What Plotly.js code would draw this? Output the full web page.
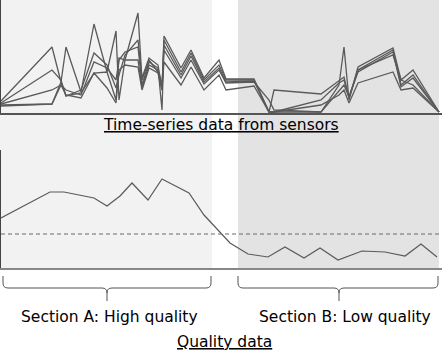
<!DOCTYPE html>
<html>
<head>
<meta charset="utf-8">
<script src="https://cdn.plot.ly/plotly-3.0.1.min.js"></script>
<style>html,body{margin:0;padding:0;background:#fff;}#chart{width:442px;height:353px;}</style>
</head>
<body>
<div id="chart"></div>
<script>
// ---- data ----
const time = [0, 51, 60, 65, 80, 93, 106, 115, 118, 124, 137, 141, 148, 157, 161, 163, 180, 190, 203, 218, 225, 253, 268, 273, 320, 338, 343, 348, 357, 392, 400, 412, 438];
const sensor1 = [12, 66, 31, 66, 21, 89, 41, 82, 13, 53, 100, 33, 53, 41, 23, 77, 45, 63, 35, 53, 34, 34, 1, 1, 1, 28, 66, 13, 46, 65, 33, 43, 1];
const sensor2 = [10, 43, 33, 17, 23, 60, 48, 25, 38, 58, 73, 35, 55, 48, 25, 73, 41, 60, 33, 48, 33, 33, 1, 23, 19, 33, 36, 15, 43, 63, 28, 38, 1];
const sensor3 = [9, 23, 28, 23, 18, 51, 45, 33, 53, 61, 66, 28, 51, 45, 3, 68, 38, 57, 31, 45, 31, 32, 1, 1, 13, 30, 33, 16, 41, 61, 26, 35, 1];
const sensor4 = [8, 9, 31, 17, 20, 40, 41, 13, 55, 53, 53, 25, 48, 43, 28, 63, 35, 53, 29, 43, 30, 31, 13, 3, 1, 23, 28, 16, 43, 58, 33, 28, 1];
const sensor5 = [7, 9, 28, 18, 15, 40, 25, 10, 43, 48, 46, 23, 45, 40, 23, 51, 28, 46, 23, 38, 23, 27, 1, 1, 8, 18, 23, 10, 30, 41, 23, 25, 1];

const qualityTime = [0, 49, 63, 93, 106, 119, 131, 147, 161, 188, 203, 220, 229, 247, 267, 284, 303, 319, 337, 361, 384, 404, 420, 436];
const quality = [50, 76, 76, 70, 62, 72, 85, 68, 89, 75, 53, 35, 25, 14, 11, 21, 10, 20, 8, 17, 16, 12, 24, 11];
const threshold = 34;

const sectionLabels = ["Section A: High quality", "Section B: Low quality"];
const topTitle = "Time-series data from sensors";
const bottomTitle = "Quality data";

// ---- layout helpers (pixel -> paper) ----
const W = 442, H = 353, ML = 1;
const px = x => (x - ML) / (W - ML);
const py = y => 1 - y / H;

const lineColor = '#5a5a5a';
const sensors = [sensor1, sensor2, sensor3, sensor4, sensor5];
const traces = sensors.map(s => ({
  x: time, y: s, xaxis: 'x', yaxis: 'y', type: 'scatter', mode: 'lines',
  line: {color: lineColor, width: 1.3}, hoverinfo: 'skip', showlegend: false
}));
traces.push({
  x: qualityTime, y: quality, xaxis: 'x2', yaxis: 'y2', type: 'scatter', mode: 'lines',
  line: {color: '#5a5a5a', width: 1.2}, hoverinfo: 'skip', showlegend: false
});
traces.push({
  x: [0, 441], y: [threshold, threshold], xaxis: 'x2', yaxis: 'y2', type: 'scatter', mode: 'lines',
  line: {color: '#6a6a6a', width: 1, dash: '4px,3px'}, hoverinfo: 'skip', showlegend: false
});

function brace(x0, x1, xm, yTop, yMid, yTip) {
  const r = 5;
  const P = (x, y) => px(x) + ',' + py(y);
  return 'M' + P(x0, yTop) + ' L' + P(x0, yMid - r) + ' Q' + P(x0, yMid) + ' ' + P(x0 + r, yMid) +
    ' L' + P(xm - r, yMid) + ' Q' + P(xm, yMid) + ' ' + P(xm, yMid + r) + ' L' + P(xm, yTip) +
    ' M' + P(xm, yMid + r) + ' Q' + P(xm, yMid) + ' ' + P(xm + r, yMid) +
    ' L' + P(x1 - r, yMid) + ' Q' + P(x1, yMid) + ' ' + P(x1, yMid - r) + ' L' + P(x1, yTop);
}

const axisCommon = {showgrid: false, zeroline: false, showticklabels: false, ticks: '', fixedrange: true};
const font = {family: 'DejaVu Sans, Verdana, sans-serif', size: 15.5, color: '#000'};

const layout = {
  width: W, height: H,
  margin: {l: ML, r: 0, t: 0, b: 0, pad: 0},
  paper_bgcolor: '#fff', plot_bgcolor: 'rgba(0,0,0,0)',
  showlegend: false,
  xaxis: Object.assign({}, axisCommon, {domain: [0, 1], range: [0, W - ML], anchor: 'y', showline: true, linecolor: '#555', linewidth: 1.5}),
  yaxis: Object.assign({}, axisCommon, {domain: [py(113), 1], range: [0, 113], anchor: 'x', showline: true, linecolor: '#444', linewidth: 1.5}),
  xaxis2: Object.assign({}, axisCommon, {domain: [0, 1], range: [0, W - ML], anchor: 'y2', showline: true, linecolor: '#888', linewidth: 1.5}),
  yaxis2: Object.assign({}, axisCommon, {domain: [py(268), py(150)], range: [0, 118], anchor: 'x2', showline: true, linecolor: '#444', linewidth: 1.5}),
  shapes: [
    {type: 'rect', xref: 'paper', yref: 'paper', x0: px(0), x1: px(212), y0: py(268), y1: py(0), fillcolor: '#f2f2f2', line: {width: 0}, layer: 'below'},
    {type: 'rect', xref: 'paper', yref: 'paper', x0: px(238), x1: px(439), y0: py(268), y1: py(0), fillcolor: '#e3e3e3', line: {width: 0}, layer: 'below'},
    {type: 'path', xref: 'paper', yref: 'paper', path: brace(3, 211, 107, 276, 288, 301), line: {color: '#555', width: 1}},
    {type: 'path', xref: 'paper', yref: 'paper', path: brace(238, 438, 339, 276, 288, 301), line: {color: '#555', width: 1}}
  ],
  annotations: [
    {xref: 'paper', yref: 'paper', x: px(221), y: py(125), text: '<u>' + topTitle + '</u>', showarrow: false, xanchor: 'center', yanchor: 'middle', font: font},
    {xref: 'paper', yref: 'paper', x: px(109), y: py(317), text: sectionLabels[0], showarrow: false, xanchor: 'center', yanchor: 'middle', font: font},
    {xref: 'paper', yref: 'paper', x: px(345), y: py(317), text: sectionLabels[1], showarrow: false, xanchor: 'center', yanchor: 'middle', font: font},
    {xref: 'paper', yref: 'paper', x: px(224), y: py(342), text: '<u>' + bottomTitle + '</u>', showarrow: false, xanchor: 'center', yanchor: 'middle', font: font}
  ]
};

Plotly.newPlot('chart', traces, layout, {staticPlot: true, displayModeBar: false});
</script>
</body>
</html>
